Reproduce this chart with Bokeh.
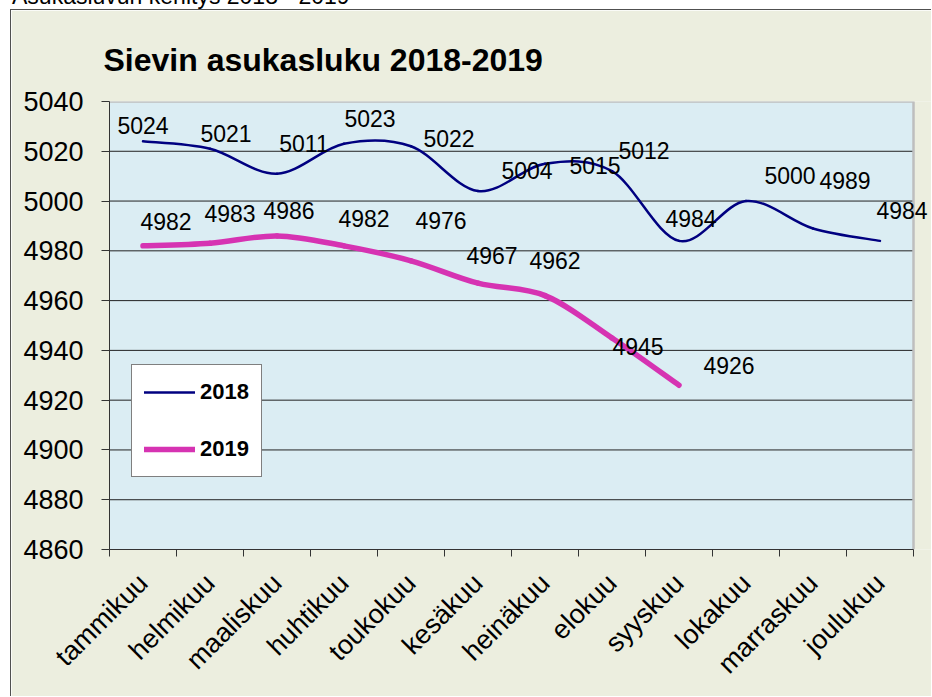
import math
from bokeh.plotting import figure
from bokeh.layouts import column
from bokeh.models import (Range1d, FixedTicker, Legend, LegendItem,
                          LabelSet, ColumnDataSource, Div)
from bokeh.core.properties import value
from bokeh.embed import file_html
from bokeh.resources import INLINE

# ---------------- data ----------------
months = ["tammikuu", "helmikuu", "maaliskuu", "huhtikuu", "toukokuu", "kesäkuu",
          "heinäkuu", "elokuu", "syyskuu", "lokakuu", "marraskuu", "joulukuu"]
pop_2018 = [5024, 5021, 5011, 5023, 5022, 5004, 5015, 5012, 4984, 5000, 4989, 4984]
pop_2019 = [4982, 4983, 4986, 4982, 4976, 4967, 4962, 4945, 4926]
y_ticks = [4860, 4880, 4900, 4920, 4940, 4960, 4980, 5000, 5020, 5040]
title_text = "Sievin asukasluku 2018-2019"
header_text = "Asukasluvun kehitys 2018 - 2019"

# data-label nudges in pixels (right, up) as placed in the original chart
nudge_x_2018 = [0, 16, 27, 26, 38, 49, 50, 32, 12, 44, 32, 22]
nudge_y_2018 = [16, 15, 30, 25, 8, 21, -2, 21, 22, 26, 48, 30]
nudge_x_2019 = [23, 20, 12, 20, 30, 14, 10, 26, 50]
nudge_y_2019 = [24, 30, 25, 27, 40, 28, 35, -9, 20]

FONT = "Liberation Sans"
C18 = "#000080"
C19 = "#D633B2"
BEIGE = "#ECEEDF"
PLOT_BG = "#DBEDF3"

W, H = 921, 687          # figure placed at (11, 10) on the page via CSS margin+border
LEFT, TOP, BOTTOM = 98, 91, 148
N = len(months)
x_end = (W - LEFT) / (804 / N)   # plot area spans the 12 months; frame runs on to the edge

p = figure(width=W, height=H, x_range=Range1d(0, x_end), y_range=Range1d(4860, 5040),
           output_backend="svg", toolbar_location=None,
           min_border_left=LEFT, min_border_right=0, min_border_top=TOP,
           min_border_bottom=BOTTOM,
           background_fill_color=BEIGE, border_fill_color=BEIGE,
           outline_line_color=None)
p.styles = {"margin-left": "10px", "margin-top": "9px",
            "border-left": "1px solid #505050", "border-top": "1px solid #505050"}

# plot area
p.quad(left=0, right=N, bottom=y_ticks[0], top=y_ticks[-1], fill_color=PLOT_BG,
       line_color=None, level="underlay")
p.segment(x0=[0] * (len(y_ticks) - 2), x1=[N] * (len(y_ticks) - 2),
          y0=y_ticks[1:-1], y1=y_ticks[1:-1], line_color="#222222", line_width=1)
p.line(x=[0, N, N], y=[y_ticks[-1], y_ticks[-1], y_ticks[0]], line_color="#BEBEBE",
       line_width=2.5)


def smooth_segments(xs, ys):
    """Cubic Bezier pieces through the points (Excel-like smoothed line)."""
    pts = list(zip(xs, ys))
    n = len(pts)
    out = {k: [] for k in ("x0", "y0", "x1", "y1", "cx0", "cy0", "cx1", "cy1")}
    for i in range(n - 1):
        pm = pts[max(i - 1, 0)]
        p0 = pts[i]
        p1 = pts[i + 1]
        p2 = pts[min(i + 2, n - 1)]
        out["x0"].append(p0[0]); out["y0"].append(p0[1])
        out["x1"].append(p1[0]); out["y1"].append(p1[1])
        out["cx0"].append(p0[0] + (p1[0] - pm[0]) / 6.0)
        out["cy0"].append(p0[1] + (p1[1] - pm[1]) / 6.0)
        out["cx1"].append(p1[0] - (p2[0] - p0[0]) / 6.0)
        out["cy1"].append(p1[1] - (p2[1] - p0[1]) / 6.0)
    return ColumnDataSource(out)


x18 = [i + 0.5 for i in range(len(pop_2018))]
x19 = [i + 0.5 for i in range(len(pop_2019))]

r18 = p.bezier("x0", "y0", "x1", "y1", "cx0", "cy0", "cx1", "cy1",
               source=smooth_segments(x18, pop_2018), line_color=C18, line_width=2.5,
               line_cap="round")
r19 = p.bezier("x0", "y0", "x1", "y1", "cx0", "cy0", "cx1", "cy1",
               source=smooth_segments(x19, pop_2019), line_color=C19, line_width=5.5,
               line_cap="round")

# data labels
src18 = ColumnDataSource(dict(x=x18, y=pop_2018, t=[str(v) for v in pop_2018],
                              dx=nudge_x_2018, dy=nudge_y_2018))
src19 = ColumnDataSource(dict(x=x19, y=pop_2019, t=[str(v) for v in pop_2019],
                              dx=nudge_x_2019, dy=nudge_y_2019))
for src in (src18, src19):
    p.add_layout(LabelSet(x="x", y="y", text="t", source=src, x_offset="dx", y_offset="dy",
                          text_align="center", text_baseline="middle",
                          text_font=value(FONT), text_font_size=value("23px"),
                          text_color="black"))

# axes
p.yaxis.ticker = FixedTicker(ticks=y_ticks)
p.yaxis.major_label_text_font = FONT
p.yaxis.major_label_text_font_size = "27px"
p.yaxis.major_label_text_color = "black"
p.yaxis.major_tick_out = 8
p.yaxis.major_tick_in = 0
p.yaxis.minor_tick_out = 0
p.yaxis.minor_tick_in = 0
p.yaxis.major_label_standoff = 18
p.yaxis.axis_line_color = "#333333"
p.yaxis.major_tick_line_color = "#333333"

p.xaxis.ticker = FixedTicker(ticks=x18, minor_ticks=list(range(0, N + 1)))
p.xaxis.bounds = (0, N)
p.xaxis.major_label_overrides = {x: m for x, m in zip(x18, months)}
p.xaxis.major_label_orientation = math.pi / 4
p.xaxis.major_label_text_font = FONT
p.xaxis.major_label_text_font_size = "27px"
p.xaxis.major_label_text_color = "black"
p.xaxis.major_tick_out = 0
p.xaxis.major_tick_in = 0
p.xaxis.minor_tick_out = 7
p.xaxis.minor_tick_in = 0
p.xaxis.minor_tick_line_color = "#333333"
p.xaxis.major_label_standoff = 22
p.xaxis.axis_line_color = "#333333"

p.xgrid.visible = False
p.ygrid.visible = False

# title
p.title.text = title_text
p.title.text_font = FONT
p.title.text_font_size = "32px"
p.title.text_font_style = "bold"
p.title.text_color = "black"
p.title.align = "left"
p.title.offset = -6
p.title.standoff = 47

# legend
legend = Legend(items=[LegendItem(label="2018", renderers=[r18]),
                       LegendItem(label="2019", renderers=[r19])],
                location=(22, 72), margin=0, padding=12, spacing=27,
                glyph_width=51, glyph_height=30, label_height=30, label_standoff=5,
                label_text_font=FONT, label_text_font_size="22px",
                label_text_font_style="bold", label_text_color="black",
                border_line_color="black", border_line_width=1,
                background_fill_color="white", background_fill_alpha=1.0)
p.add_layout(legend)

# page header, cut off by the top of the window in the original
header = Div(text=header_text, width=420, height=30,
             styles={"position": "absolute", "top": "-17px", "left": "12px",
                     "font-size": "23px", "font-family": "Liberation Sans",
                     "line-height": "normal", "white-space": "nowrap",
                     "margin": "0", "color": "black"})

layout = column(p, header)

open("out.html", "w").write(file_html(layout, INLINE))
